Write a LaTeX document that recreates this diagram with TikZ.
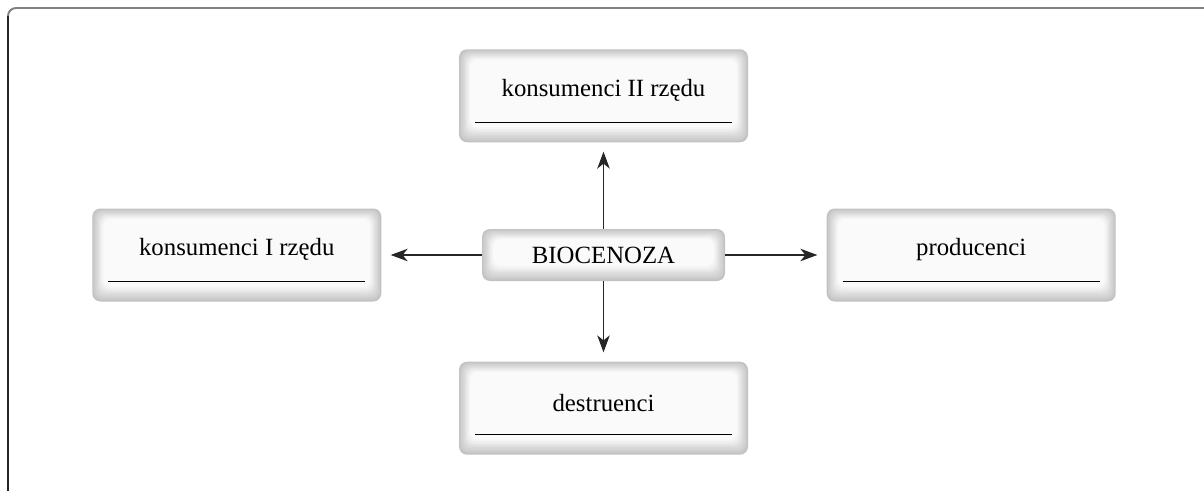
\documentclass[tikz,border=0pt]{standalone}
\usepackage{fontspec}
\setmainfont{Liberation Serif}
\usetikzlibrary{positioning}
\usetikzlibrary{arrows.meta}

\newcommand{\glassfill}{%
	\foreach \i [evaluate=\i as \tone using int(24-2.2*\i)] in {1,...,10}
		\fill[black!\tone, rounded corners=0.16cm]
			([xshift=\i*0.022cm, yshift=\i*0.03cm]path picture bounding box.south west)
			rectangle ([xshift=-\i*0.022cm, yshift=-\i*0.02cm]path picture bounding box.north east);
}

\begin{document}
\begin{tikzpicture}[
		font=\fontsize{14.1}{16}\selectfont,
		glass/.style={rounded corners=0.16cm, fill=black!24, path picture={\glassfill}},
		leaf/.style={rounded corners=0.16cm, fill=black!24,
			minimum width=5.78cm, minimum height=1.86cm,
			label={[anchor=base, yshift=0.11cm]center:#1},
			path picture={\glassfill
				\draw[black, line width=0.7pt]
					([xshift=0.32cm, yshift=0.4cm]path picture bounding box.south west) --
					([xshift=-0.32cm, yshift=0.4cm]path picture bounding box.south east);
			}
		},
		arr/.style={-{Stealth[length=0.34cm, width=0.25cm, inset=0.1cm]},
			line width=0.8pt, black!85, shorten >=0.18cm}
	]
	
	\useasboundingbox (0,0) rectangle (24.08,-9.82);
	
	% frame
	\draw[black!50, line width=1.1pt] (0.16,-0.32) arc[start angle=180, end angle=90, radius=0.16] -- (24.08,-0.16);
	\draw[black!85, line width=0.7pt] (0.16,-0.32) -- (0.16,-9.82);
	
	\node[glass, minimum width=4.86cm, minimum height=1.04cm] (bio) at (12.07,-5.1) {BIOCENOZA};
	
	\node[leaf=konsumenci II rzędu, above=1.72cm of bio] (kons2) {};
	\node[leaf=destruenci, below=1.6cm of bio] (destr) {};
	\node[leaf=konsumenci I rzędu, left=2.0cm of bio] (kons1) {};
	\node[leaf=producenci, right=2.02cm of bio] (prod) {};
	
	\draw[arr] (bio) -- (kons2);
	\draw[arr] (bio) -- (destr);
	\draw[arr] (bio) -- (kons1);
	\draw[arr] (bio) -- (prod);
\end{tikzpicture}
\end{document}
